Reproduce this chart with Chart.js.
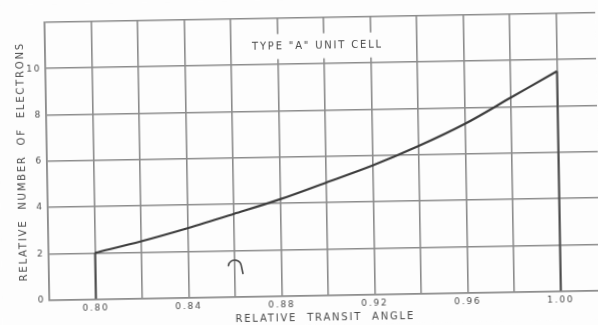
<!DOCTYPE html>
<html>
<head>
<meta charset="utf-8">
<title>Type A unit cell</title>
<script src="https://cdn.jsdelivr.net/npm/chart.js@4/dist/chart.umd.min.js"></script>
<style>
    html, body { margin: 0; padding: 0; background: #fdfdfd; overflow: hidden; }
    #wrap { width: 598px; height: 325px; transform: rotate(-1deg); }
</style>
</head>
<body>
<div id="wrap"><canvas id="cellChart" width="598" height="325"></canvas></div>
<script>
// Relative number of electrons vs relative transit angle
const transitAngle = [0.80, 0.82, 0.84, 0.86, 0.88, 0.90, 0.92, 0.94, 0.96, 0.98, 1.00];
const electrons = [2.0, 2.47, 3.0, 3.58, 4.18, 4.87, 5.57, 6.38, 7.3, 8.4, 9.5];

const xGridTicks = [0.78, 0.80, 0.82, 0.84, 0.86, 0.88, 0.90, 0.92, 0.94, 0.96, 0.98, 1.00];
const xLabelTicks = [0.80, 0.84, 0.88, 0.92, 0.96, 1.00];
const yLabelTicks = [0, 2, 4, 6, 8, 10];

const cellLabel = 'TYPE "A" UNIT CELL';
const cellLabelAt = { x: 0.8972, y: 10.76 };
const cellBox = { x0: 0.865, x1: 0.93, y0: 10.24, y1: 11.32 };
const penMark = { x: 0.8600, y: 1.30 };

const INK = '#4a4a4a';
const GRID = '#8c8c8c';
const FONT = 'DejaVu Sans';

const curve = transitAngle.map((x, i) => ({ x, y: electrons[i] }));
const last = transitAngle.length - 1;

const paper = {
    id: 'paper',
    beforeDraw(chart) {
        const ctx = chart.ctx;
        ctx.save();
        ctx.fillStyle = '#fdfdfd';
        ctx.fillRect(0, 0, chart.width, chart.height);
        ctx.restore();
        ctx.letterSpacing = '1.8px';
    },
    beforeDatasetsDraw(chart) {
        const { ctx, scales: { x, y } } = chart;
        ctx.save();
        ctx.fillStyle = '#fdfdfd';
        const bx = x.getPixelForValue(cellBox.x0), by = y.getPixelForValue(cellBox.y1);
        ctx.fillRect(bx, by, x.getPixelForValue(cellBox.x1) - bx, y.getPixelForValue(cellBox.y0) - by);
        ctx.fillStyle = INK;
        ctx.font = '10px "' + FONT + '"';
        ctx.textAlign = 'center';
        ctx.textBaseline = 'middle';
        ctx.fillText(cellLabel, x.getPixelForValue(cellLabelAt.x), y.getPixelForValue(cellLabelAt.y));
        ctx.restore();
    },
    afterDatasetsDraw(chart) {
        // little pen hook below the curve
        const { ctx, scales: { x, y } } = chart;
        const cx = x.getPixelForValue(penMark.x), cy = y.getPixelForValue(penMark.y);
        ctx.save();
        ctx.strokeStyle = '#4a4a4a';
        ctx.lineWidth = 1.6;
        ctx.lineCap = 'round';
        ctx.beginPath();
        ctx.arc(cx, cy, 6.5, 190 * Math.PI / 180, 350 * Math.PI / 180);
        ctx.lineTo(cx + 8, cy + 7);
        ctx.stroke();
        ctx.restore();
    }
};

new Chart(document.getElementById('cellChart'), {
    type: 'line',
    data: {
        datasets: [
            {
                data: curve,
                borderColor: '#3c3c3c', borderWidth: 2.2,
                pointRadius: 0, tension: 0.35, cubicInterpolationMode: 'monotone'
            },
            {
                data: [{ x: transitAngle[0], y: 0 }, { x: transitAngle[0], y: electrons[0] }],
                borderColor: '#4a4a4a', borderWidth: 2, pointRadius: 0
            },
            {
                data: [{ x: transitAngle[last], y: 0 }, { x: transitAngle[last], y: electrons[last] }],
                borderColor: '#4a4a4a', borderWidth: 2, pointRadius: 0
            }
        ]
    },
    options: {
        responsive: false,
        animation: false,
        layout: { padding: { top: 18, right: 0, bottom: 0, left: 0 } },
        plugins: { legend: { display: false }, tooltip: { enabled: false } },
        scales: {
            x: {
                type: 'linear', min: 0.78, max: 1.017,
                afterBuildTicks: s => { s.ticks = xGridTicks.map(v => ({ value: v })); },
                afterFit: s => { s.height = 29.4; },
                grid: { color: GRID, lineWidth: 1.6, drawTicks: false },
                border: { color: GRID, width: 1.6 },
                ticks: {
                    padding: 4, color: INK, font: { family: FONT, size: 9 },
                    maxRotation: 0, autoSkip: false,
                    callback: v => xLabelTicks.some(t => Math.abs(t - v) < 1e-6) ? v.toFixed(2) : ''
                },
                title: {
                    display: true, text: 'RELATIVE  TRANSIT  ANGLE', color: INK,
                    font: { family: FONT, size: 10 }, padding: { top: 0, bottom: 1 }
                }
            },
            y: {
                min: 0, max: 12,
                afterFit: s => { s.width = 47; },
                grid: { color: GRID, lineWidth: 1.6, drawTicks: false },
                border: { color: GRID, width: 1.6 },
                ticks: {
                    stepSize: 2, padding: 4, color: INK, font: { family: FONT, size: 9 },
                    callback: v => yLabelTicks.includes(v) ? String(v) : ''
                },
                title: {
                    display: true, text: 'RELATIVE  NUMBER  OF  ELECTRONS', color: INK,
                    font: { family: FONT, size: 10 }, padding: { top: 16, bottom: 0 }
                }
            }
        }
    },
    plugins: [paper]
});
</script>
</body>
</html>
